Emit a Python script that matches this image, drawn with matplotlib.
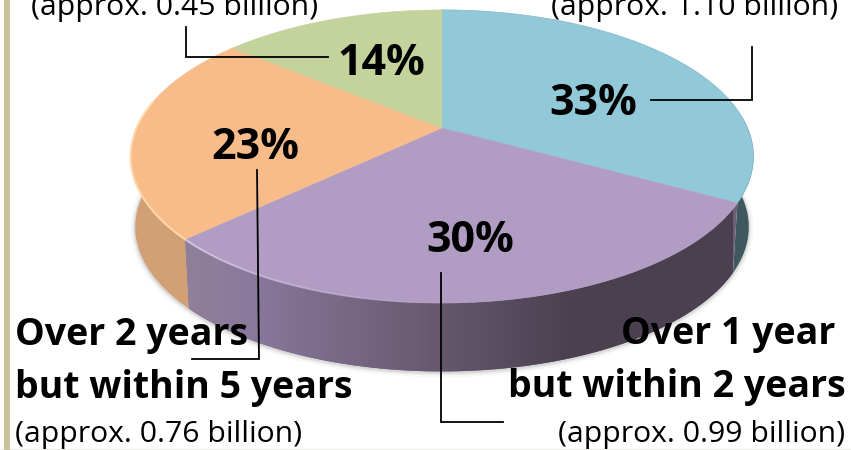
# -*- coding: utf-8 -*-
import matplotlib.pyplot as plt
import numpy as np
from matplotlib.colors import LinearSegmentedColormap
from matplotlib.patches import Polygon

plt.rcParams['font.family'] = ['Open Sans', 'Noto Sans', 'DejaVu Sans']

# --- data ---
percent = [33, 30, 23, 14]
percent_labels = ['33%', '30%', '23%', '14%']
top_colors = ['#92c9d9', '#b19dc4', '#f7bc8a', '#c3d39b']
approx_labels = ['(approx. 1.10 billion)', '(approx. 0.99 billion)',
                 '(approx. 0.76 billion)', '(approx. 0.45 billion)']

# --- pie geometry (pixels), circle seen in perspective ---
cx, cy = 442, 128
k = 0.1945
a = 141
b = 305.5
depth = 71


def project(frac, scale=1.0, dy=0.0):
    # frac runs clockwise from 12 o'clock, 0..1
    t = 2 * np.pi * np.asarray(frac)
    u, v = np.sin(t), np.cos(t)
    d = 1 + k * v
    return np.column_stack((cx + scale * b * u / d, cy - scale * a * v / d + dy))


def arc(f0, f1, **kw):
    return project(np.linspace(f0, f1, 200), **kw)


def wall(f0, f1):
    return np.vstack((arc(f0, f1), arc(f0, f1, scale=0.985, dy=depth)[::-1]))


fig = plt.figure(figsize=(8.51, 4.5), dpi=100)
ax = fig.add_axes([0, 0, 1, 1])

edges = np.cumsum([0] + percent) / sum(percent)

# soft shadow below the wall
rim = arc(0.24, 0.76, scale=0.985, dy=depth)
for lw, al in [(7, 0.04), (4, 0.07), (2, 0.12)]:
    ax.plot(rim[:, 0], rim[:, 1] + 1, color='#555555', lw=lw, alpha=al,
            solid_capstyle='round', zorder=1)

# side walls
ax.add_patch(Polygon(wall(0.24, edges[1]), fc='#3f5860', ec='none', zorder=2))
ax.add_patch(Polygon(wall(edges[2], 0.78), fc='#d2a074', ec='none', zorder=2))
purple_wall = Polygon(wall(edges[1], edges[2]), fc='#6b5e75', ec='none', zorder=2)
ax.add_patch(purple_wall)
wall_cmap = LinearSegmentedColormap.from_list(
    'wall', [(0.0, '#918099'), (0.12, '#8a799d'), (0.45, '#675a70'),
             (0.70, '#4b4150'), (1.0, '#4a4050')])
img = ax.imshow(np.linspace(0, 1, 256)[None, :], cmap=wall_cmap, aspect='auto',
                extent=(182, 733, 380, 200), zorder=3)
img.set_clip_path(purple_wall)

# top slices
for i, col in enumerate(top_colors):
    pts = np.vstack(([[cx, cy]], arc(edges[i], edges[i + 1])))
    ax.add_patch(Polygon(pts, fc=col, ec=col, lw=0.4, zorder=4))

# light rim on the front of the top face, purple one fades out
r = arc(edges[2], 0.78)
ax.plot(r[:, 0], r[:, 1], color='#ffd9ae', lw=1.4, zorder=5)
r = arc(0.50, edges[2])
for j in range(0, len(r) - 1, 4):
    ax.plot(r[j:j + 5, 0], r[j:j + 5, 1], color='#d8c8e6', lw=1.4,
            alpha=j / len(r), solid_capstyle='butt', zorder=5)
r = arc(0.0, edges[1])
ax.plot(r[:, 0], r[:, 1], color='#7fb0c0', lw=0.7, alpha=0.5, zorder=5)

# leader lines
leaders = [([651, 752, 752], [100, 100, 47]),
           ([441, 441, 503], [273, 422, 422]),
           ([257, 259, 192], [170, 359, 359]),
           ([328, 186, 186], [57, 57, 27])]
for xs, ys in leaders:
    ax.plot(xs, ys, color='black', lw=1.3, solid_joinstyle='miter', zorder=6)

# percent labels
pct_pos = [(593, 115), (470, 252), (255, 159), (381, 75)]
for (x, y), txt in zip(pct_pos, percent_labels):
    ax.text(x, y, txt, fontsize=31, fontweight='bold', ha='center', va='baseline', zorder=7)

# category labels
bold = dict(fontsize=27, fontweight='bold', va='baseline', zorder=7)
ax.text(15, 345, 'Over 2 years', ha='left', **bold)
ax.text(15, 398, 'but within 5 years', ha='left', **bold)
ax.text(835, 344, 'Over 1 year', ha='right', **bold)
ax.text(846, 397, 'but within 2 years', ha='right', **bold)

small = dict(fontsize=21.7, va='baseline', zorder=7)
ax.text(838, 15, approx_labels[0], ha='right', **small)
ax.text(845, 442, approx_labels[1], ha='right', **small)
ax.text(15, 442, approx_labels[2], ha='left', **small)
ax.text(31, 15, approx_labels[3], ha='left', **small)

# frame bar on the left
ax.axvspan(4, 10, color='#c8c29a', lw=0, zorder=8)
ax.axhline(449, color='#eeeeea', lw=1, zorder=0)

ax.set_xlim(0, 851)
ax.set_ylim(450, 0)
ax.axis('off')

fig.savefig('out.png', dpi=100)
